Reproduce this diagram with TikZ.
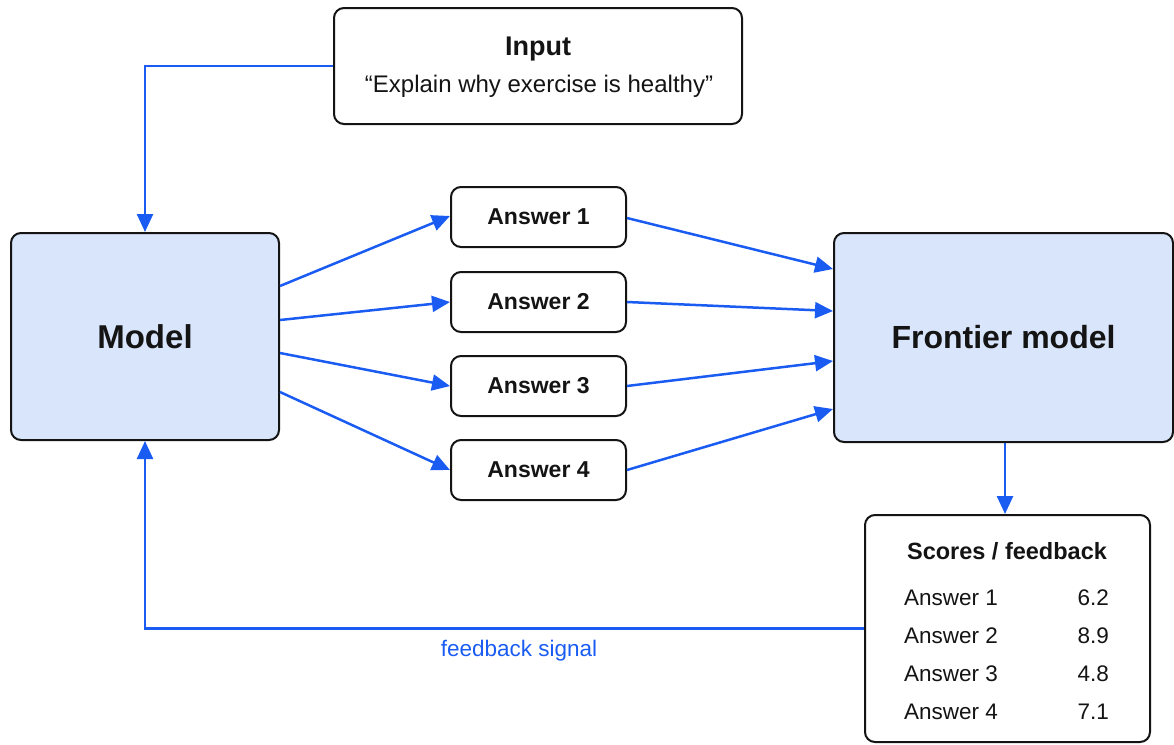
\documentclass[tikz,border=0pt]{standalone}
\usepackage{fontspec}
\setmainfont{Liberation Sans}
\usetikzlibrary{arrows.meta,calc}

\definecolor{flowblue}{HTML}{1A5CF2}
\definecolor{boxfill}{HTML}{D8E5FA}
\definecolor{ink}{HTML}{141414}

\tikzset{
  box/.style={draw=ink, line width=2pt, rounded corners=10pt, fill=white,
    text=ink, inner sep=0pt},
  bigbox/.style={box, fill=boxfill},
  answerbox/.style={box, minimum width=175pt, minimum height=60pt,
    font=\fontsize{23}{27}\selectfont\bfseries},
  flow/.style={draw=flowblue, line width=2.5pt,
    -{Triangle[length=18pt,width=16pt]}},
  bodytext/.style={text=ink, font=\fontsize{22.5}{27}\selectfont, inner sep=0pt},
}

\begin{document}
\begin{tikzpicture}[x=1pt, y=-1pt]
  \useasboundingbox (0,0) rectangle (1174,744);

  % prompt box
  \node[box, minimum width=408pt, minimum height=116pt] (input) at (538,66) {};
  \node[text=ink, font=\fontsize{27}{32}\selectfont\bfseries] (inputtitle) at (538,49) {Input};
  \node[bodytext, font=\fontsize{24}{29}\selectfont] (prompt) at (539,86)
    {“Explain why exercise is healthy”};

  % policy model and judge
  \node[bigbox, minimum width=268pt, minimum height=207pt,
        font=\fontsize{33}{40}\selectfont\bfseries] (model) at (145,336.5) {Model};
  \node[bigbox, minimum width=339pt, minimum height=209pt,
        font=\fontsize{32}{39}\selectfont\bfseries] (frontier) at (1003.5,337.5) {Frontier model};

  % sampled answers
  \node[answerbox] (a1) at (538.5,217) {Answer 1};
  \node[answerbox] (a2) at (538.5,302) {Answer 2};
  \node[answerbox] (a3) at (538.5,386) {Answer 3};
  \node[answerbox] (a4) at (538.5,470) {Answer 4};

  % score table
  \node[box, minimum width=285pt, minimum height=227pt] (scores) at (1007.5,628.5) {};
  \node[text=ink, font=\fontsize{23.5}{28}\selectfont\bfseries] (scoretitle) at (1007,551) {Scores / feedback};
  \node[bodytext, anchor=west] (r1) at (904,598) {Answer 1};
  \node[bodytext, anchor=west] (r2) at (904,636) {Answer 2};
  \node[bodytext, anchor=west] (r3) at (904,674) {Answer 3};
  \node[bodytext, anchor=west] (r4) at (904,712) {Answer 4};
  \node[bodytext, anchor=east] (v1) at (1109,598) {6.2};
  \node[bodytext, anchor=east] (v2) at (1109,636) {8.9};
  \node[bodytext, anchor=east] (v3) at (1109,674) {4.8};
  \node[bodytext, anchor=east] (v4) at (1109,712) {7.1};

  % prompt goes into the model
  \draw[flow] (input.west) -| (model.north);

  % model samples four answers
  \draw[flow] ([yshift=50.5pt]model.east) -- ([yshift=1pt]a1.west);
  \draw[flow] ([yshift=16.5pt]model.east) -- (a2.west);
  \draw[flow] ([yshift=-16.5pt]model.east) -- (a3.west);
  \draw[flow] ([yshift=-55.5pt]model.east) -- (a4.west);

  % answers are judged
  \draw[flow] ([yshift=-1pt]a1.east) -- ([yshift=68.5pt]frontier.west);
  \draw[flow] (a2.east) -- ([yshift=26.5pt]frontier.west);
  \draw[flow] (a3.east) -- ([yshift=-23.5pt]frontier.west);
  \draw[flow] (a4.east) -- ([yshift=-71.5pt]frontier.west);

  \draw[flow] ([xshift=1.5pt]frontier.south) -- ([xshift=1.5pt]frontier.south |- scores.north);

  % scores return to the model
  \draw[flow] (scores.west) -| (model.south);
  \node[text=flowblue, font=\fontsize{22.5}{27}\selectfont, inner sep=0pt] (fbl) at (519,651) {feedback signal};
\end{tikzpicture}
\end{document}
